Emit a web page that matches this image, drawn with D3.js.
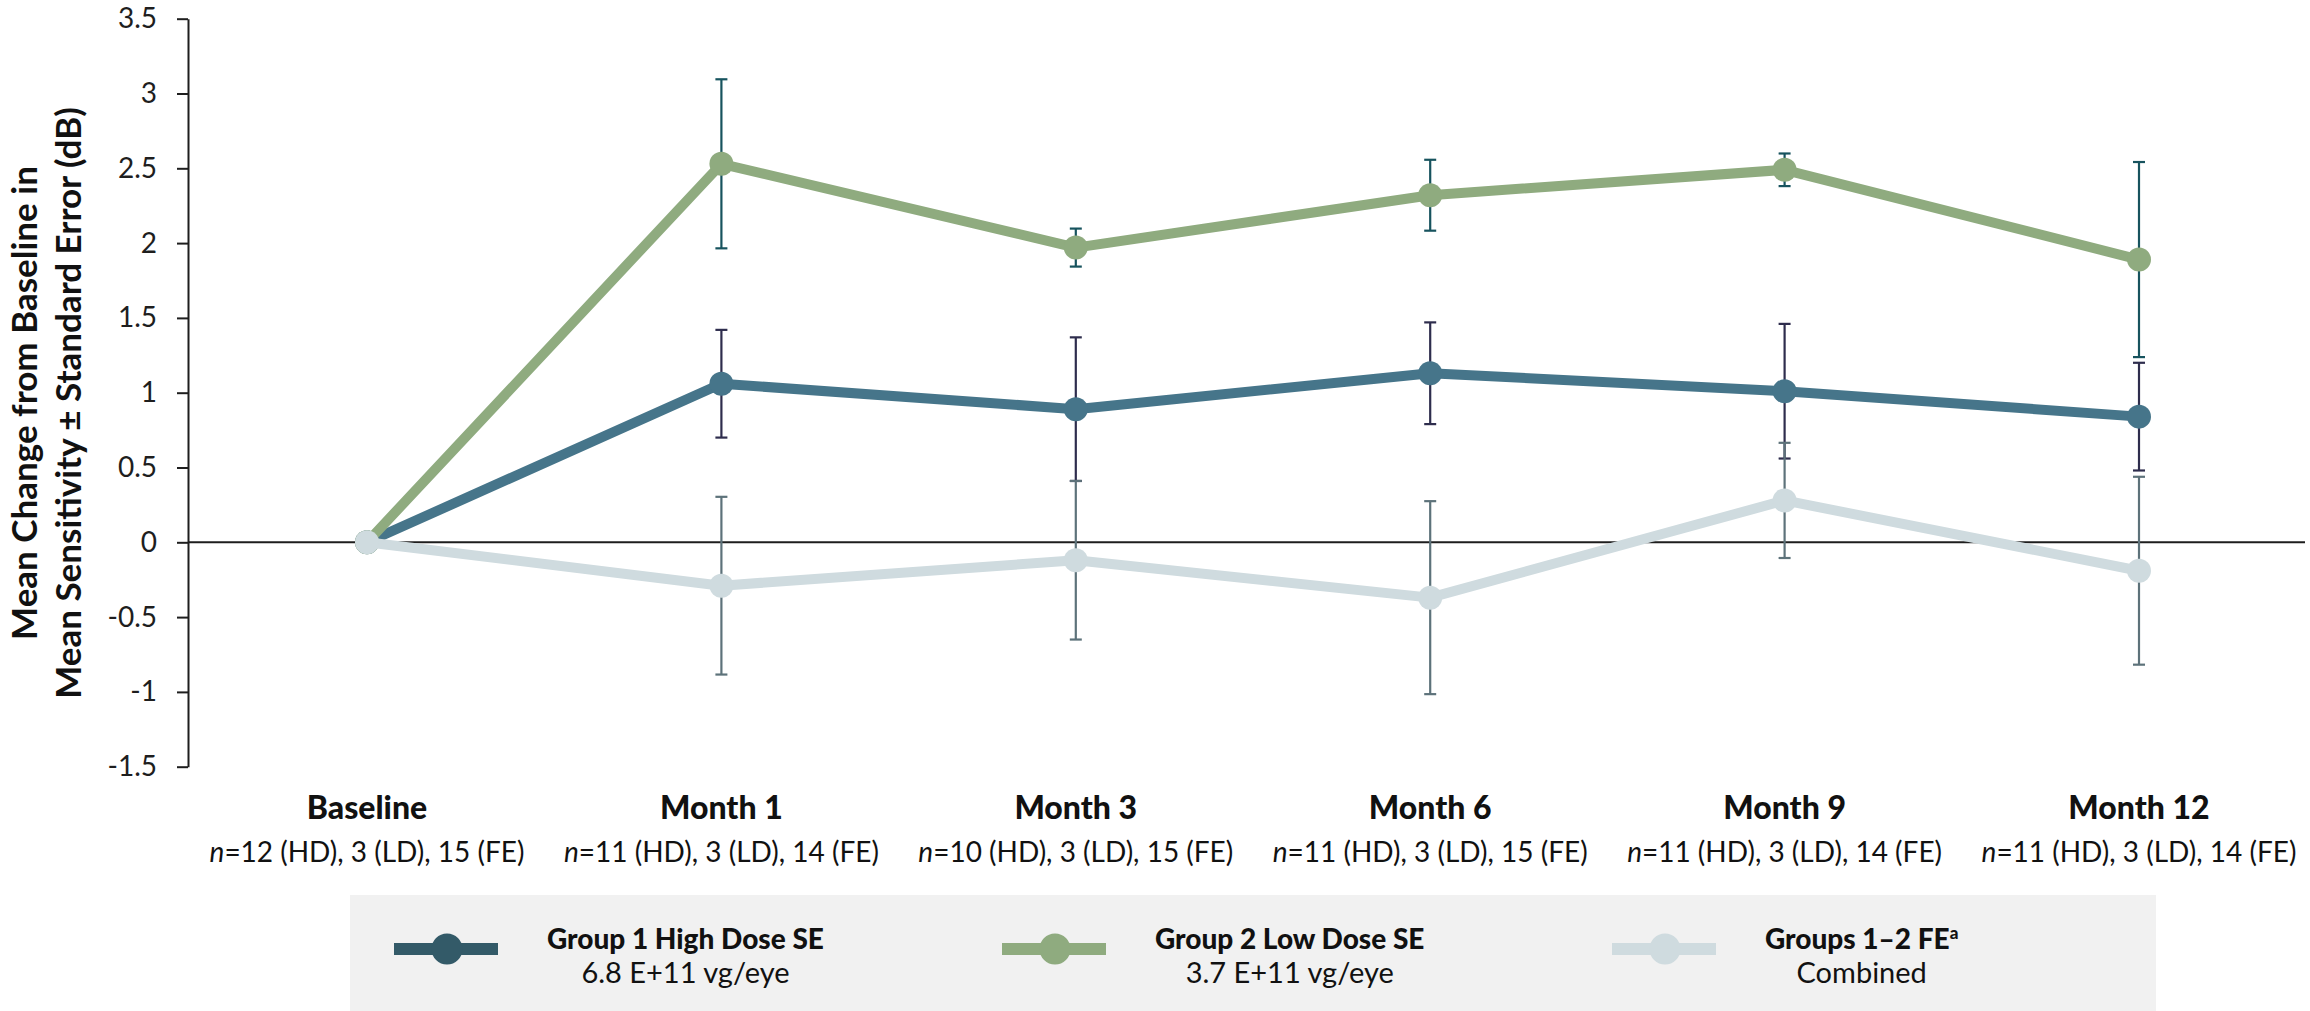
<!DOCTYPE html>
<html>
<head>
<meta charset="utf-8">
<script src="https://cdn.jsdelivr.net/npm/d3@7"></script>
<style>
  html, body { margin: 0; padding: 0; background: #fff; }
  svg { display: block; font-family: Lato, "Open Sans", sans-serif; }
</style>
</head>
<body>
<svg id="chart" width="2310" height="1011"></svg>
<script>
// Visit timepoints and number of eyes per arm
const timepoints = ["Baseline", "Month 1", "Month 3", "Month 6", "Month 9", "Month 12"];
const sampleSizes = [
  "=12 (HD), 3 (LD), 15 (FE)",
  "=11 (HD), 3 (LD), 14 (FE)",
  "=10 (HD), 3 (LD), 15 (FE)",
  "=11 (HD), 3 (LD), 15 (FE)",
  "=11 (HD), 3 (LD), 14 (FE)",
  "=11 (HD), 3 (LD), 14 (FE)"
];

// Mean change from baseline (dB) and standard error per arm
const highDoseMean = [0, 1.06, 0.89, 1.13, 1.01, 0.84];
const highDoseSE   = [0, 0.36, 0.48, 0.34, 0.45, 0.36];
const lowDoseMean  = [0, 2.53, 1.97, 2.32, 2.49, 1.89];
const lowDoseSE    = [0, 0.565, 0.127, 0.237, 0.109, 0.652];
const fellowMean   = [0, -0.29, -0.12, -0.37, 0.28, -0.19];
const fellowSE     = [0, 0.594, 0.53, 0.645, 0.385, 0.628];

const yTicks = [-1.5, -1, -0.5, 0, 0.5, 1, 1.5, 2, 2.5, 3, 3.5];

const legendTitles = ["Group 1 High Dose SE", "Group 2 Low Dose SE", "Groups 1\u20132 FE"];
const legendSubtitles = ["6.8 E+11 vg/eye", "3.7 E+11 vg/eye", "Combined"];

// Drawing order: high dose, low dose, fellow eyes on top
const series = [
  { mean: highDoseMean, se: highDoseSE, line: "#46758a", legend: "#335a68", bar: "#2e2d4d" },
  { mean: lowDoseMean,  se: lowDoseSE,  line: "#8fab7f", legend: "#8fab7f", bar: "#17535e" },
  { mean: fellowMean,   se: fellowSE,   line: "#cfdbdf", legend: "#cfdbdf", bar: "#5d727a" }
];

const svg = d3.select("#chart");

const x = d3.scalePoint().domain(timepoints).range([367, 2139]);
const y = d3.scaleLinear().domain([-1.5, 3.5]).range([766.7, 18.7]);
const axisX = 188;

// Zero reference line
svg.append("line")
  .attr("x1", axisX).attr("x2", 2305)
  .attr("y1", y(0)).attr("y2", y(0))
  .attr("stroke", "#1e1e1e").attr("stroke-width", 2);

// Y axis
const yAxis = svg.append("g")
  .attr("transform", `translate(${axisX},0)`)
  .call(d3.axisLeft(y).tickValues(yTicks).tickSize(11).tickSizeOuter(0).tickPadding(20)
    .tickFormat(d => String(d)));
yAxis.select(".domain").attr("stroke", "#1e1e1e").attr("stroke-width", 2);
yAxis.selectAll(".tick line").attr("stroke", "#1e1e1e").attr("stroke-width", 2);
yAxis.selectAll(".tick text")
  .attr("font-family", "Lato, sans-serif")
  .attr("font-size", 28)
  .attr("fill", "#1e1e1e");

// Y axis title (two lines)
const titleLines = ["Mean Change from Baseline in", "Mean Sensitivity \u00b1 Standard Error (dB)"];
svg.selectAll("text.ytitle")
  .data(titleLines)
  .join("text")
  .attr("class", "ytitle")
  .attr("transform", (d, i) => `translate(${37 + i * 44},403) rotate(-90)`)
  .attr("text-anchor", "middle")
  .attr("font-size", 35)
  .attr("font-weight", 700)
  .attr("fill", "#111")
  .text(d => d);

// Category labels with sample sizes
const cat = svg.append("g");
cat.selectAll("text.cat")
  .data(timepoints)
  .join("text")
  .attr("class", "cat")
  .attr("x", d => x(d)).attr("y", 819)
  .attr("text-anchor", "middle")
  .attr("font-size", 32)
  .attr("font-weight", 900)
  .attr("fill", "#111")
  .text(d => d);
const nLabels = cat.selectAll("text.n")
  .data(timepoints)
  .join("text")
  .attr("class", "n")
  .attr("x", d => x(d)).attr("y", 862)
  .attr("text-anchor", "middle")
  .attr("font-size", 28)
  .attr("fill", "#111");
nLabels.append("tspan").attr("font-style", "italic").text("n");
nLabels.append("tspan").text((d, i) => sampleSizes[i]);

// Error bars (standard error), skipped where SE is zero
const capHalf = 6;
series.forEach(s => {
  const pts = timepoints.map((t, i) => ({ t, m: s.mean[i], e: s.se[i] })).filter(p => p.e > 0);
  const g = svg.append("g").attr("stroke", s.bar).attr("stroke-width", 2.2).attr("fill", "none");
  g.selectAll("line.v").data(pts).join("line")
    .attr("x1", p => x(p.t)).attr("x2", p => x(p.t))
    .attr("y1", p => y(p.m + p.e)).attr("y2", p => y(p.m - p.e));
  g.selectAll("line.top").data(pts).join("line")
    .attr("x1", p => x(p.t) - capHalf).attr("x2", p => x(p.t) + capHalf)
    .attr("y1", p => y(p.m + p.e)).attr("y2", p => y(p.m + p.e));
  g.selectAll("line.bot").data(pts).join("line")
    .attr("x1", p => x(p.t) - capHalf).attr("x2", p => x(p.t) + capHalf)
    .attr("y1", p => y(p.m - p.e)).attr("y2", p => y(p.m - p.e));
});

// Lines and markers
const line = d3.line().x((d, i) => x(timepoints[i])).y(d => y(d));
series.forEach(s => {
  svg.append("path")
    .datum(s.mean)
    .attr("d", line)
    .attr("fill", "none")
    .attr("stroke", s.line)
    .attr("stroke-width", 10)
    .attr("stroke-linejoin", "round");
  svg.append("g").selectAll("circle").data(s.mean).join("circle")
    .attr("cx", (d, i) => x(timepoints[i]))
    .attr("cy", d => y(d))
    .attr("r", 12)
    .attr("fill", s.line);
});

// Legend panel
const legend = svg.append("g");
legend.append("rect")
  .attr("x", 350).attr("y", 895).attr("width", 1806).attr("height", 116)
  .attr("fill", "#f1f1f1");

const legendX = [447, 1055, 1665];
series.forEach((s, i) => {
  const cx = legendX[i];
  const g = legend.append("g");
  g.append("rect")
    .attr("x", cx - 53).attr("y", 943).attr("width", 104).attr("height", 12)
    .attr("fill", s.legend);
  g.append("circle").attr("cx", cx).attr("cy", 949).attr("r", 15.5).attr("fill", s.legend);

  const t1 = g.append("text")
    .attr("x", cx + 100).attr("y", 949)
    .attr("font-size", 28).attr("font-weight", 900).attr("fill", "#111")
    .text(legendTitles[i]);
  if (i === 2) {
    t1.append("tspan").attr("font-size", 17).attr("dy", -10).text("a");
  }
  const bb = t1.node().getBBox();
  g.append("text")
    .attr("x", bb.x + bb.width / 2).attr("y", 983)
    .attr("text-anchor", "middle")
    .attr("font-size", 29).attr("fill", "#111")
    .text(legendSubtitles[i]);
});
</script>
</body>
</html>
